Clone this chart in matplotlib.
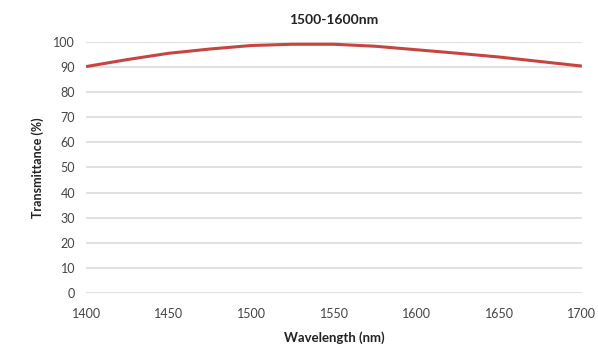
import numpy as np
import matplotlib
matplotlib.use('Agg')
import matplotlib.pyplot as plt

# curva de transmitancia leída cada 25 nm
wavelength = [1400, 1425, 1450, 1475, 1500, 1525, 1550, 1575, 1600, 1625, 1650, 1675, 1700]
transmittance = [90.2, 93.0, 95.5, 97.2, 98.6, 99.1, 99.1, 98.3, 96.9, 95.5, 94.0, 92.2, 90.4]
y_ticks = list(range(0, 101, 10))
x_ticks = [1400, 1450, 1500, 1550, 1600, 1650, 1700]

plt.rcParams['font.family'] = ['Lato', 'DejaVu Sans']

fig = plt.figure(figsize=(5.98, 3.47), dpi=100)
ax = fig.add_axes([0.144, 0.156, 0.829, 0.723])

ax.plot(wavelength, transmittance, color='#c84440', linewidth=2.2,
        solid_joinstyle='round', solid_capstyle='butt')

ax.set_xlim(1400, 1700)
ax.set_ylim(0, 100)
ax.set_xticks(x_ticks)
ax.set_yticks(y_ticks)
ax.grid(axis='y', color='#dcdcdc', linewidth=1.2)
ax.set_axisbelow(True)
for s in ax.spines.values():
    s.set_visible(False)
ax.tick_params(axis='y', length=0, labelsize=9, colors='#444444', pad=8)
ax.tick_params(axis='x', length=0, labelsize=9, colors='#444444', pad=11)

ax.set_title("1500-1600nm", fontsize=10, fontweight='bold', color='#222222', pad=13)
ax.set_xlabel("Wavelength (nm)", fontsize=9.5, fontweight='bold', color='#222222', labelpad=8)
ax.set_ylabel("Transmittance (%)", fontsize=9, fontweight='bold', color='#222222', labelpad=7)

fig.savefig('out.png', dpi=100)
plt.close(fig)
